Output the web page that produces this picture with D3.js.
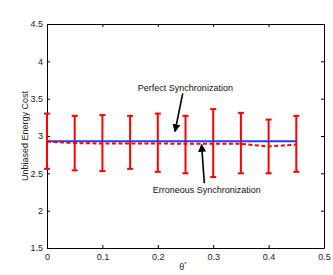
<!DOCTYPE html>
<html>
<head>
<meta charset="utf-8">
<script src="https://cdn.jsdelivr.net/npm/d3@7"></script>
<style>
  body { margin: 0; background: #fff; }
  text { font-family: "Liberation Sans", Arial, sans-serif; }
</style>
</head>
<body>
<svg id="chart" width="333" height="275"></svg>
<script>
// theta* values and the energy costs
var thetas    = [0, 0.05, 0.1, 0.15, 0.2, 0.25, 0.3, 0.35, 0.4, 0.45];
var perfect   = [2.93, 2.93, 2.93, 2.93, 2.93, 2.93, 2.93, 2.93, 2.93, 2.93];
var erroneous = [2.925, 2.905, 2.9, 2.9, 2.9, 2.895, 2.895, 2.895, 2.86, 2.885];
var errUpper  = [3.30, 3.27, 3.28, 3.27, 3.30, 3.27, 3.36, 3.31, 3.22, 3.27];
var errLower  = [2.56, 2.54, 2.53, 2.56, 2.52, 2.50, 2.45, 2.50, 2.50, 2.52];

var xTicks = [0, 0.1, 0.2, 0.3, 0.4, 0.5];
var yTicks = [1.5, 2, 2.5, 3, 3.5, 4, 4.5];

var svg = d3.select("#chart"),
    margin = {top: 24, right: 9, bottom: 27, left: 47},
    width = +svg.attr("width") - margin.left - margin.right,
    height = +svg.attr("height") - margin.top - margin.bottom;

var x = d3.scaleLinear().domain([0, 0.5]).range([0, width]);
var y = d3.scaleLinear().domain([1.5, 4.5]).range([height, 0]);

var g = svg.append("g")
    .attr("transform", "translate(" + margin.left + "," + margin.top + ")");

// box with inward ticks on all four sides
function styleAxis(sel, showLabels) {
    sel.select(".domain").attr("stroke", "#000").attr("stroke-width", 1);
    sel.selectAll(".tick line").attr("stroke", "#000");
    sel.selectAll(".tick text")
        .attr("font-size", "9px")
        .attr("fill", "#222")
        .style("display", showLabels ? null : "none");
}

g.append("g")
    .attr("transform", "translate(0," + height + ")")
    .call(d3.axisBottom(x).tickValues(xTicks).tickSizeInner(-3).tickSizeOuter(0).tickPadding(6)
        .tickFormat(function(d) { return d === 0 ? "0" : d3.format(".1f")(d); }))
    .call(styleAxis, true);

g.append("g")
    .call(d3.axisTop(x).tickValues(xTicks).tickSizeInner(-3).tickSizeOuter(0))
    .call(styleAxis, false);

g.append("g")
    .call(d3.axisLeft(y).tickValues(yTicks).tickSizeInner(-3).tickSizeOuter(0).tickPadding(4)
        .tickFormat(function(d) { return d % 1 === 0 ? d3.format("d")(d) : d3.format(".1f")(d); }))
    .call(styleAxis, true);

g.append("g")
    .attr("transform", "translate(" + width + ",0)")
    .call(d3.axisRight(y).tickValues(yTicks).tickSizeInner(-3).tickSizeOuter(0))
    .call(styleAxis, false);

// error bars
var bars = g.append("g")
    .attr("stroke", "#ff0000")
    .attr("stroke-width", 2);

thetas.forEach(function(t, i) {
    var cx = x(t);
    bars.append("line")
        .attr("x1", cx).attr("x2", cx)
        .attr("y1", y(errUpper[i])).attr("y2", y(errLower[i]));
    bars.append("line")
        .attr("x1", cx - 3).attr("x2", cx + 3)
        .attr("y1", y(errUpper[i])).attr("y2", y(errUpper[i]));
    bars.append("line")
        .attr("x1", cx - 3).attr("x2", cx + 3)
        .attr("y1", y(errLower[i])).attr("y2", y(errLower[i]));
});

var line = d3.line()
    .x(function(d) { return x(d[0]); })
    .y(function(d) { return y(d[1]); });

g.append("path")
    .datum(d3.zip(thetas, perfect))
    .attr("fill", "none")
    .attr("stroke", "#1f3cff")
    .attr("stroke-width", 2)
    .attr("d", line);

g.append("path")
    .datum(d3.zip(thetas, erroneous))
    .attr("fill", "none")
    .attr("stroke", "#ff0000")
    .attr("stroke-width", 2)
    .attr("stroke-dasharray", "4,2.5")
    .attr("d", line);

// annotations
svg.append("defs").append("marker")
    .attr("id", "head")
    .attr("viewBox", "0 0 10 10")
    .attr("refX", 9).attr("refY", 5)
    .attr("markerWidth", 5).attr("markerHeight", 5)
    .attr("orient", "auto")
  .append("path")
    .attr("d", "M0,0L10,5L0,10z")
    .attr("fill", "#000");

var notes = [
    {label: "Perfect Synchronization", tx: 0.164, ty: 3.643, from: [0.245, 3.572], to: [0.231, 3.06]},
    {label: "Erroneous Synchronization", tx: 0.191, ty: 2.277, from: [0.284, 2.367], to: [0.279, 2.885]}
];

notes.forEach(function(n) {
    g.append("text")
        .attr("x", x(n.tx))
        .attr("y", y(n.ty))
        .attr("dy", "0.35em")
        .attr("font-size", "9px")
        .attr("fill", "#111")
        .text(n.label);
    g.append("line")
        .attr("x1", x(n.from[0])).attr("y1", y(n.from[1]))
        .attr("x2", x(n.to[0])).attr("y2", y(n.to[1]))
        .attr("stroke", "#000")
        .attr("stroke-width", 1.6)
        .attr("marker-end", "url(#head)");
});

// axis titles
svg.append("text")
    .attr("transform", "translate(28," + (margin.top + height / 2) + ") rotate(-90)")
    .attr("text-anchor", "middle")
    .attr("font-size", "9px")
    .attr("fill", "#222")
    .text("Unbiased Energy Cost");

var xt = svg.append("text")
    .attr("x", 183)
    .attr("y", 270)
    .attr("text-anchor", "middle")
    .attr("font-size", "9px")
    .attr("fill", "#222")
    .text("θ");
xt.append("tspan")
    .attr("dy", "-4")
    .attr("font-size", "6px")
    .text("*");
</script>
</body>
</html>
